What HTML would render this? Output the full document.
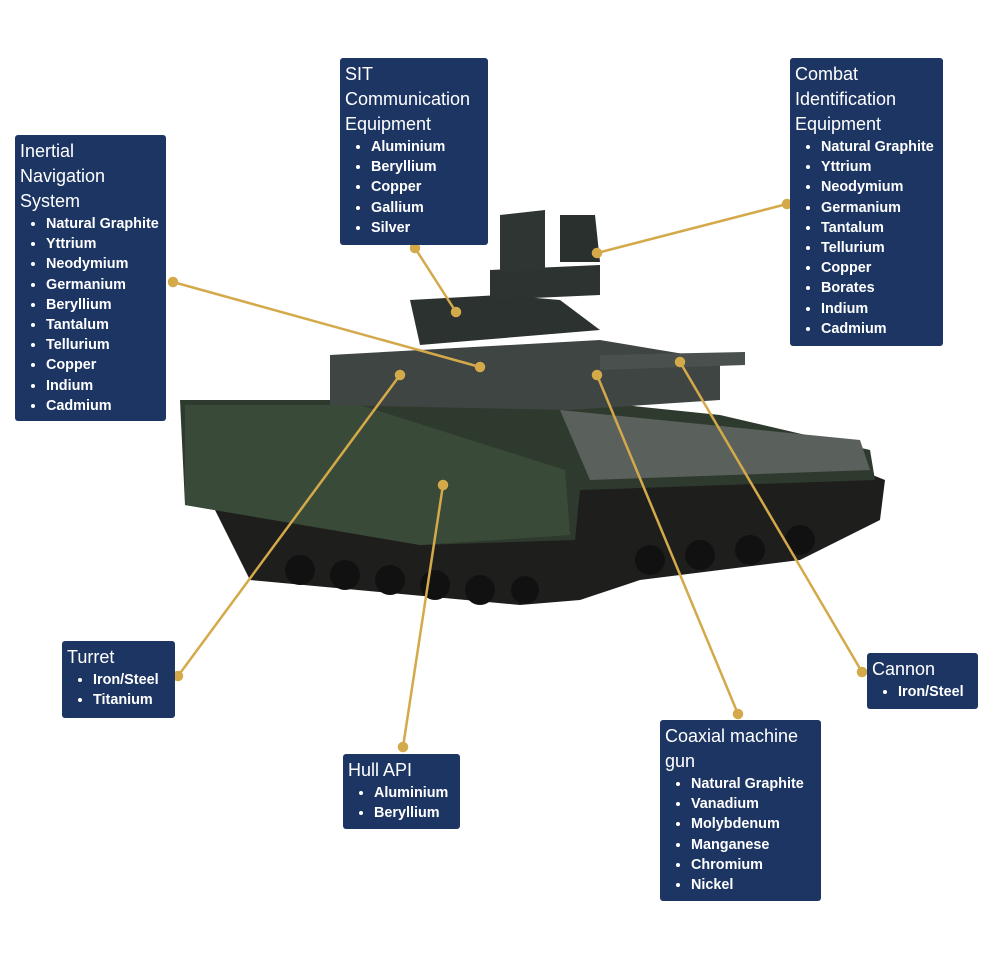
<!DOCTYPE html>
<html><head><style>
body{margin:0;width:995px;height:956px;background:#fff;position:relative;overflow:hidden;font-family:"Liberation Sans",sans-serif}
.b{position:absolute;background:#1d3563;color:#fff;border-radius:3px;padding:4px 5px;box-sizing:border-box;white-space:nowrap;overflow:visible}
.b h{display:block;font-size:18px;line-height:25px}
.b ul{margin:0;padding:0 0 0 26px;font-size:14.4px;line-height:20.2px;font-weight:bold}
svg{position:absolute;left:0;top:0}
</style></head><body>
<svg width="995" height="956">
<g>
<polygon points="210,500 250,580 520,605 580,600 640,580 800,560 880,520 885,480 860,470 580,480 230,480" fill="#1e1f1d"/>
<polygon points="180,400 575,400 720,415 870,450 875,480 580,490 575,540 420,545 185,505" fill="#2f3a2e"/>
<polygon points="185,405 360,405 565,470 570,535 420,545 185,505" fill="#3a4a38"/>
<polygon points="560,410 860,440 870,470 590,480" fill="#5a615c"/>
<polygon points="330,355 420,350 600,340 720,360 720,400 570,410 330,405" fill="#3f4542"/>
<polygon points="410,300 500,295 560,300 600,330 480,340 420,345" fill="#2c3230"/>
<polygon points="490,270 600,265 600,295 490,300" fill="#2d3330"/>
<polygon points="500,215 545,210 545,270 500,272" fill="#2f3532"/>
<polygon points="560,215 595,215 600,262 560,262" fill="#2a302d"/>
<polygon points="600,355 745,352 745,365 600,370" fill="#4a504d"/>
<g fill="#111">
<circle cx="300" cy="570" r="15"/><circle cx="345" cy="575" r="15"/><circle cx="390" cy="580" r="15"/><circle cx="435" cy="585" r="15"/><circle cx="480" cy="590" r="15"/><circle cx="525" cy="590" r="14"/>
<circle cx="650" cy="560" r="15"/><circle cx="700" cy="555" r="15"/><circle cx="750" cy="550" r="15"/><circle cx="800" cy="540" r="15"/>
</g>
</g>
<g stroke="#d4a94a" stroke-width="2.5" fill="#d4a94a">
<line x1="173" y1="282" x2="480" y2="367"/><circle cx="173" cy="282" r="4"/><circle cx="480" cy="367" r="4"/>
<line x1="415" y1="248" x2="456" y2="312"/><circle cx="415" cy="248" r="4"/><circle cx="456" cy="312" r="4"/>
<line x1="787" y1="204" x2="597" y2="253"/><circle cx="787" cy="204" r="4"/><circle cx="597" cy="253" r="4"/>
<line x1="178" y1="676" x2="400" y2="375"/><circle cx="178" cy="676" r="4"/><circle cx="400" cy="375" r="4"/>
<line x1="403" y1="747" x2="443" y2="485"/><circle cx="403" cy="747" r="4"/><circle cx="443" cy="485" r="4"/>
<line x1="738" y1="714" x2="597" y2="375"/><circle cx="738" cy="714" r="4"/><circle cx="597" cy="375" r="4"/>
<line x1="862" y1="672" x2="680" y2="362"/><circle cx="862" cy="672" r="4"/><circle cx="680" cy="362" r="4"/>
</g>
</svg>
<div class="b" style="left:15px;top:135px;width:151px;height:286px"><h>Inertial<br>Navigation<br>System</h><ul><li>Natural Graphite</li><li>Yttrium</li><li>Neodymium</li><li>Germanium</li><li>Beryllium</li><li>Tantalum</li><li>Tellurium</li><li>Copper</li><li>Indium</li><li>Cadmium</li></ul></div>
<div class="b" style="left:340px;top:58px;width:148px;height:187px"><h>SIT<br>Communication<br>Equipment</h><ul><li>Aluminium</li><li>Beryllium</li><li>Copper</li><li>Gallium</li><li>Silver</li></ul></div>
<div class="b" style="left:790px;top:58px;width:153px;height:288px"><h>Combat<br>Identification<br>Equipment</h><ul><li>Natural Graphite</li><li>Yttrium</li><li>Neodymium</li><li>Germanium</li><li>Tantalum</li><li>Tellurium</li><li>Copper</li><li>Borates</li><li>Indium</li><li>Cadmium</li></ul></div>
<div class="b" style="left:62px;top:641px;width:113px;height:77px"><h>Turret</h><ul><li>Iron/Steel</li><li>Titanium</li></ul></div>
<div class="b" style="left:343px;top:754px;width:117px;height:75px"><h>Hull API</h><ul><li>Aluminium</li><li>Beryllium</li></ul></div>
<div class="b" style="left:660px;top:720px;width:161px;height:181px"><h>Coaxial machine<br>gun</h><ul><li>Natural Graphite</li><li>Vanadium</li><li>Molybdenum</li><li>Manganese</li><li>Chromium</li><li>Nickel</li></ul></div>
<div class="b" style="left:867px;top:653px;width:111px;height:56px"><h>Cannon</h><ul><li>Iron/Steel</li></ul></div>
</body></html>
